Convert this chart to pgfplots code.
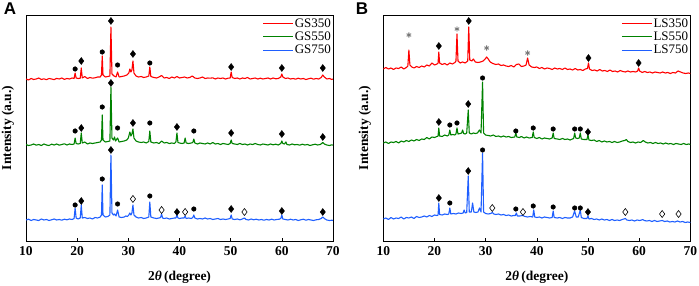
\documentclass[border=0pt]{standalone}
\usepackage{fontspec}
\setmainfont{Liberation Serif}
\newfontfamily\panelfont{Liberation Sans}
\usepackage{pgfplots}
\usepackage{pgfplotstable}
\pgfplotsset{compat=1.18}
\definecolor{cred}{RGB}{255,0,0}
\definecolor{cgreen}{RGB}{0,130,0}
\definecolor{cblue}{RGB}{31,95,255}
\definecolor{cgray}{RGB}{120,120,120}

\pgfplotstableread{
x y
10 1
10.5 0
11 1.5
11.5 0.5
12 1
12.5 2
13 0.5
13.5 1.2
14 0.3
14.5 1.5
15 1
15.5 0.4
16 1.6
16.5 1
17 2
17.5 0.6
18 1.5
18.5 1
19 2
19.4 1.5
19.6 7
19.8 2
20.2 1.5
20.6 1.8
20.8 12
21.0 2
21.5 3.5
22 1.5
22.5 2.5
23 1.8
23.5 2.2
24 3
24.5 3
24.75 5
24.9 24
25.05 5
25.5 3
26 3.5
26.4 4
26.6 53
26.8 6
27.2 4
27.6 3
27.9 8
28.2 3
28.7 3.5
29.2 4
29.7 5
30.1 7
30.3 11
30.5 8
30.7 10
30.9 19
31.1 7
31.5 4
32 3
32.5 3.5
33 2.5
33.5 3
34.0 4
34.2 13
34.4 3.5
35 2.5
35.5 2
36 3
36.5 4.5
37 2
37.5 2.5
38 1.5
38.5 3
39 2
39.5 3.5
40 2
40.5 2.5
41 3
41.5 2
42 2.5
42.5 4
43 2
43.5 1.5
44 2
44.5 3
45 1.5
45.5 2
46 1.8
46.5 2.2
47 1
47.5 2
48 1.5
48.5 2
49 1
49.5 1.8
49.9 2
50.1 8
50.3 2.5
50.8 1.5
51.3 2
51.8 1
52.3 2
52.8 1.5
53.3 2.5
53.8 1
54.3 1.5
54.8 2
55.3 1
55.8 1.8
56.3 1
56.8 1.5
57.3 2
57.8 1
58.3 2
58.8 1.2
59.3 1.5
59.8 3
60.0 6
60.2 3
60.7 1.5
61.2 2
61.7 1
62.2 1.5
62.7 0.8
63.2 1.8
63.7 1
64.2 1.5
64.7 0.5
65.2 1.2
65.7 1.8
66.2 0.8
66.7 1.5
67.2 1
67.7 2.5
68.0 5
68.3 3
68.8 1
69.3 1.5
69.8 0.5
70 1
}\gsA

\pgfplotstableread{
x y
10 1.5
10.5 0.5
11 1
11.5 2
12 0.8
12.5 1.5
13 0.5
13.5 2
14 1
14.5 0.5
15 1.8
15.5 1
16 2
16.5 0.8
17 1.5
17.5 2.2
18 1
18.5 2
19 1.5
19.4 2
19.6 8
19.8 2.5
20.2 2
20.6 2.5
20.8 13
21.0 3
21.5 4
22 2
22.5 3
23 2.5
23.5 3
24 3.5
24.5 4
24.75 6
24.9 31
25.05 6
25.5 4
26 4.5
26.4 5
26.6 59
26.8 8
27.1 6
27.3 9
27.5 5
27.9 8
28.2 4
28.7 4.5
29.2 5
29.7 6
30.0 8
30.3 14
30.5 10
30.7 12
30.9 17
31.1 8
31.5 5
32 4
32.5 3.5
33 4
33.5 3
34.0 4.5
34.2 15
34.4 4
35 3
35.5 3.5
36 2.5
36.5 5
37 3
37.5 3.5
38 2.5
38.5 3
39 2.5
39.3 4
39.5 13
39.7 3.5
40 3
40.5 2.5
40.9 3
41.1 8
41.3 3
41.8 2.5
42.3 3
42.6 3.5
42.8 7
43.0 3
43.5 2
44 3
44.5 2.5
45 2
45.5 3
46 2
46.5 3.5
47 2
47.5 2.5
48 1.5
48.5 2.5
49 2
49.5 1.5
49.9 2.5
50.1 6
50.3 2.5
50.8 2
51.3 1.5
51.8 2.5
52.3 1.5
52.8 2
53.3 1
53.8 2
54.3 1.5
54.8 2.5
55.3 1.5
55.8 1
56.3 2
56.8 1.5
57.3 1
57.8 2
58.3 1.2
58.8 1.8
59.3 1
59.8 2.5
60.0 5
60.2 2.5
60.5 2
60.8 4
61.0 1.5
61.5 1
62 2
62.5 1.2
63 1.5
63.5 0.8
64 1.8
64.5 1
65 1.5
65.5 0.5
66 1.2
66.5 1.8
67 1
67.5 1.5
67.8 2.5
68.0 3.5
68.3 2
68.8 1
69.3 0.5
69.8 1.2
70 0.8
}\gsB

\pgfplotstableread{
x y
10 1
10.5 1.8
11 0.5
11.5 1.5
12 1
12.5 0.5
13 2
13.5 1
14 1.5
14.5 0.5
15 1.2
15.5 2
16 1
16.5 1.5
17 0.8
17.5 1.8
18 1.2
18.5 2
19 1.5
19.4 2.5
19.6 13
19.8 3
20.2 2
20.6 3
20.8 16
21.0 3
21.5 3.5
22 2.5
22.5 3
23 2
23.5 3.5
24 3
24.5 4
24.75 6
24.9 36
25.05 6
25.5 4
26 4.5
26.4 6
26.6 66
26.8 8
27.1 6
27.3 7
27.6 5
27.9 11
28.2 4
28.7 3.5
29.2 4
29.5 5
29.8 4.5
30.1 6
30.3 8
30.5 6
30.7 8
30.9 16
31.1 6
31.5 4
32 3
32.5 3.5
33 2.5
33.5 3
34.0 4
34.2 19
34.4 4
35 3
35.5 2.5
36 3
36.3 3.5
36.5 7
36.7 3
37 2.5
37.5 3
38 2
38.5 2.5
39 3
39.3 3
39.5 6
39.7 3
40 2.5
40.5 3
40.9 3
41.1 5
41.3 2.5
41.8 3
42.3 2.5
42.6 3.5
42.8 6
43.0 3
43.5 2
44 2.5
44.5 2
45 3
45.5 2
46 2.5
46.5 1.5
47 2
47.5 2.5
48 1.5
48.5 2
49 1.5
49.5 2
49.9 2.5
50.1 6
50.3 2
50.8 1.5
51.3 2
51.8 1.2
52.3 2
52.7 3
53 1.5
53.5 1
54 2
54.5 1.2
55 1.8
55.5 1
56 1.5
56.5 0.8
57 1.5
57.5 1
58 1.8
58.5 1
59 1.5
59.5 1.8
59.8 2.5
60.0 6
60.2 2
60.7 1.5
61.2 1
61.7 1.8
62.2 1
62.7 1.5
63.2 0.5
63.7 1.2
64.2 1.8
64.7 0.8
65.2 1.5
65.7 1
66.2 0.5
66.7 1.2
67.2 1.5
67.7 2.5
68.0 4
68.3 2.5
68.8 1
69.3 0.5
69.8 0.8
70 0.5
}\gsC

\pgfplotstableread{
x y
10 6
10.5 7.5
11 6
11.5 7
12 5.5
12.5 7
13 6.5
13.5 8
14 6
14.5 7.5
14.8 9
15.0 25
15.2 10
15.6 8
16 7
16.5 8.5
17 7.5
17.5 9
18 8
18.5 10
19 9
19.5 12
20 10
20.5 11
20.7 12
20.85 23
21.0 12
21.5 10.5
22 11.5
22.5 10
23 12
23.5 11
24 12.5
24.2 14
24.4 41
24.6 14
25 12
25.5 13
26 12
26.5 14
26.7 48
26.9 15
27.3 14
27.6 16
28 13
28.5 12.5
29 13
29.5 14
29.9 16
30.2 18
30.5 16
30.9 13
31.4 11.5
32 10.5
32.5 11
33 9.5
33.5 10
34 9
34.5 8.5
35 9.5
35.5 8
36 10.5
36.5 11
37 8.5
37.5 9
37.9 10
38.2 17
38.5 10
39 8
39.5 7.5
40 8
40.5 6.5
41 7.5
41.5 6
42 7
42.5 6.5
43 5.5
43.5 7
44 6
44.5 6.5
45 5.5
45.5 7
46 5.5
46.5 6
47 5
47.5 6.5
48 5
48.5 5.5
49 4.5
49.5 6
49.9 6.5
50.1 12
50.3 6
50.8 4.5
51.3 5
51.8 4
52.3 5.5
52.8 4
53.3 4.5
53.8 3.5
54.3 5
54.8 3.5
55.3 4
55.8 3
56.3 4.5
56.8 3.5
57.3 3
57.8 4
58.3 3
58.8 3.5
59.3 3
59.7 4
59.9 7
60.1 4
60.6 2.5
61.1 3.5
61.6 2.5
62.1 3
62.6 2
63.1 3
63.6 2.5
64.1 2
64.6 3
65.1 2
65.6 2.5
66.1 1.5
66.6 2.5
67.1 2
67.6 4
68.1 3
68.6 2
69.1 1.5
69.6 2
70 1.5
}\lsA

\pgfplotstableread{
x y
10 3
10.5 4
11 2.5
11.5 4
12 3.5
12.5 4.5
13 3
13.5 5
14 4
14.5 5.5
15 4.5
15.5 6
16 5
16.5 6.5
17 5.5
17.5 7
18 6.5
18.5 8.5
19 7
19.5 9
20 8.5
20.5 9.5
20.7 10
20.85 18
21.0 10
21.5 9.5
22 11
22.5 10
22.8 11
23.0 16
23.2 11
23.6 11.5
24 11
24.2 12
24.4 18
24.6 12
25 12.5
25.3 13
25.5 16
25.7 12.5
26 12
26.3 13
26.6 36
26.8 13
27.2 12
27.6 13
28 12.5
28.4 13
28.8 16
29.1 13
29.4 64
29.6 13
30 11
30.5 10.5
31 10
31.5 11
32 9.5
32.5 10
33 9
33.5 10
34 9
34.5 9.5
35 8.5
35.7 9
35.9 13
36.1 9
36.6 8.5
37 9.5
37.5 8
38 9
38.5 8
39.1 8.5
39.3 14
39.5 8.5
40 7.5
40.5 8.5
41 7
41.5 8
42 7.5
42.5 7
43 8
43.2 13
43.4 7.5
44 7
44.5 6.5
45 7.5
45.5 6.5
46 7
46.5 6
47.2 7.5
47.4 13
47.6 8
48.0 7.5
48.3 8
48.5 13
48.7 7
49.2 6.5
49.8 6.5
50.0 11
50.2 6
50.7 5.5
51.2 6
51.7 4.5
52.2 5.5
52.7 4
53.2 5
53.7 4
54.2 4.5
54.7 3.5
55.2 4.5
55.7 3.5
56.2 4
56.7 5
57.2 5.5
57.5 6.5
57.8 4.5
58.3 3.5
58.8 4
59.3 3
59.8 4
60.3 3.5
60.8 5.5
61.2 4
61.7 3
62.2 3.5
62.7 2.5
63.2 3.5
63.7 2.5
64.2 3
64.7 2
65.2 3
65.7 2
66.2 2.5
66.7 1.5
67.2 2.5
67.7 2
68.2 1.5
68.7 2.5
69.2 1.5
69.7 2
70 1.5
}\lsB

\pgfplotstableread{
x y
10 5
10.5 6
11 4.5
11.5 6.5
12 5
12.5 6
13 5.5
13.5 7
14 5
14.5 6.5
15 6
15.5 7
16 5.5
16.5 7.5
17 6.5
17.5 7
18 8
18.5 7
19 8.5
19.5 7.5
20 9
20.5 8.5
20.7 9
20.85 21
21.0 9.5
21.5 9
22 10
22.5 9.5
22.8 10
23.0 16
23.2 10
23.7 10.5
24.2 10
24.7 11
25.2 10.5
25.6 11
25.8 14
26.0 11
26.3 11.5
26.6 48
26.8 12
27.2 12
27.45 21
27.7 12
28.1 11.5
28.5 12
28.8 16
29.1 12
29.4 71
29.6 12
30 10.5
30.5 10
31 10.5
31.3 11.5
31.6 10
32 9.5
32.5 10
33 9
33.5 9.5
34 8.5
34.5 9
35 8
35.5 8.5
35.8 8.5
36.0 11
36.2 8
36.7 8
37.2 8.5
37.7 7.5
38.2 7
38.7 7.5
39.2 7
39.4 14
39.6 7
40 6.5
40.5 7
41 6
41.5 7
42 6.5
42.5 6
43.0 6.5
43.2 13
43.4 6.5
44 6
44.5 6.5
45 5.5
45.5 6.5
46 6
46.5 6
47.0 7
47.4 13
47.7 7
48.1 7
48.5 14
48.7 6.5
49.2 5.5
49.8 5.5
50.0 8
50.2 5
50.7 5.5
51.2 4.5
51.7 5
52.2 4
52.7 5
53.2 4
53.7 4.5
54.2 3.5
54.7 4.5
55.2 3.5
55.7 4
56.2 3.5
56.7 4.5
57.0 5
57.3 5.5
57.6 4
58.1 3.5
58.6 4
59.1 3
59.6 4
60.1 3.5
60.5 4
60.7 4.5
61.0 3.5
61.5 3
62 3.5
62.5 2.5
63 3.5
63.5 2.5
64 3
64.5 3.5
65 2.5
65.5 3
66 2
66.5 2.5
67 2
67.5 3
68 2
68.5 2.5
69 1.5
69.5 2
70 1.5
}\lsC

\tikzset{ln/.style={line width=1.1pt, line join=round}}

\pgfplotsset{
  xrd/.style={
    scale only axis, width=307pt, height=226pt,
    xmin=10, xmax=70, ymin=0, ymax=226,
    xtick={10,20,...,70}, ytick=\empty,
    xtick pos=left, tick align=inside, major tick length=3pt,
    axis line style={line width=0.6pt, black},
    every tick/.style={black, line width=0.6pt},
    /pgf/number format/assume math mode=true,
    xticklabel style={font=\bfseries\fontsize{13.5}{14}\selectfont, yshift=-2pt},
    xlabel={\textbf{2\textit{θ}\,(degree)}},
    xlabel style={font=\fontsize{13.5}{14}\selectfont, at={(axis description cs:0.5,0)}, anchor=center, yshift=-36pt},
    ylabel={\textbf{Intensity (a.u.)}},
    ylabel style={font=\fontsize{13.5}{14}\selectfont, at={(axis description cs:-0.0586,0.5)}, anchor=center},
    legend style={at={(axis description cs:0.997,0.99)}, anchor=north east, draw=none, fill=none,
      font=\fontsize{13}{13}\selectfont, row sep=1.2pt, inner sep=0pt,
      nodes={inner sep=1pt}, cells={anchor=west}},
    legend image code/.code={\draw[#1] (0pt,0pt) -- (30pt,0pt);},
    dot/.style={only marks, mark=*, mark size=2.3pt, black, forget plot},
    dia/.style={only marks, mark=diamond*, mark size=3.5pt, black, forget plot},
    odia/.style={only marks, mark=diamond, mark size=3.5pt, black, line width=0.6pt, mark options={fill=white}, forget plot},
    ast/.style={only marks, mark=asterisk, mark size=2.6pt, cgray, line width=0.9pt, forget plot},
  }
}

\begin{document}
\begin{tikzpicture}
\begin{axis}[xrd, at={(26pt,45pt)}, anchor=south west]
\addplot[color=cred, line width=1.1pt, line join=round] table[x=x, y expr=\thisrow{y}+161] {\gsA};
\addlegendentry{GS350}
\addplot[color=cgreen, line width=1.1pt, line join=round] table[x=x, y expr=\thisrow{y}+95] {\gsB};
\addlegendentry{GS550}
\addplot[color=cblue, line width=1.1pt, line join=round] table[x=x, y expr=\thisrow{y}+20] {\gsC};
\addlegendentry{GS750}
% red markers
\addplot[dot] coordinates {(19.6,172) (24.9,189) (27.9,176) (34.2,178)};
\addplot[dia] coordinates {(20.8,180) (26.6,220) (30.9,187) (50.1,174) (60,173) (68,173)};
% green markers
\addplot[dot] coordinates {(19.6,110) (24.9,134) (27.9,113) (34.2,118) (42.8,110)};
\addplot[dia] coordinates {(20.8,113) (26.6,158) (30.9,118) (39.5,114) (50.1,108) (60,107) (68,104)};
% blue markers
\addplot[dot] coordinates {(19.6,36) (24.9,62) (27.9,37) (34.2,45) (42.8,32)};
\addplot[dia] coordinates {(20.8,40) (26.6,91) (39.5,29) (50.1,32) (60,30) (68,29)};
\addplot[odia] coordinates {(30.9,42) (36.5,31) (41.1,29) (52.7,29)};
\end{axis}

\begin{axis}[xrd, at={(383.3pt,45pt)}, anchor=south west,
  ylabel style={at={(axis description cs:-0.0596,0.5)}}]
\addplot[color=cred, line width=1.1pt, line join=round] table[x=x, y expr=\thisrow{y}+166] {\lsA};
\addlegendentry{LS350}
\addplot[color=cgreen, line width=1.1pt, line join=round] table[x=x, y expr=\thisrow{y}+95] {\lsB};
\addlegendentry{LS550}
\addplot[color=cblue, line width=1.1pt, line join=round] table[x=x, y expr=\thisrow{y}+17] {\lsC};
\addlegendentry{LS750}
% red markers
\addplot[ast] coordinates {(15.0,206) (24.4,212) (30.2,193) (38.2,188)};
\addplot[dia] coordinates {(20.85,195) (26.7,220) (50.1,183) (59.9,178)};
% green markers
\addplot[dia] coordinates {(20.85,119) (26.6,137) (50.0,109)};
\addplot[dot] coordinates {(23.0,116) (24.4,118) (29.4,163) (35.9,110) (39.3,113) (43.2,112) (47.4,112) (48.5,112)};
% blue markers
\addplot[dia] coordinates {(20.85,43) (26.6,70) (50.0,29)};
\addplot[dot] coordinates {(23.0,38) (29.4,91) (35.9,32) (39.3,35) (43.2,34) (47.4,33) (48.5,33)};
\addplot[odia] coordinates {(31.3,33) (37.3,29) (57.3,29) (64.5,27) (67.7,27)};
\end{axis}

\node[font=\panelfont\bfseries\fontsize{17}{17}\selectfont] at (10pt,277pt) {A};
\node[font=\panelfont\bfseries\fontsize{17}{17}\selectfont] at (362pt,277pt) {B};

\pgfresetboundingbox
\path[use as bounding box] (0,0) rectangle (699pt,286pt);
\end{tikzpicture}
\end{document}
